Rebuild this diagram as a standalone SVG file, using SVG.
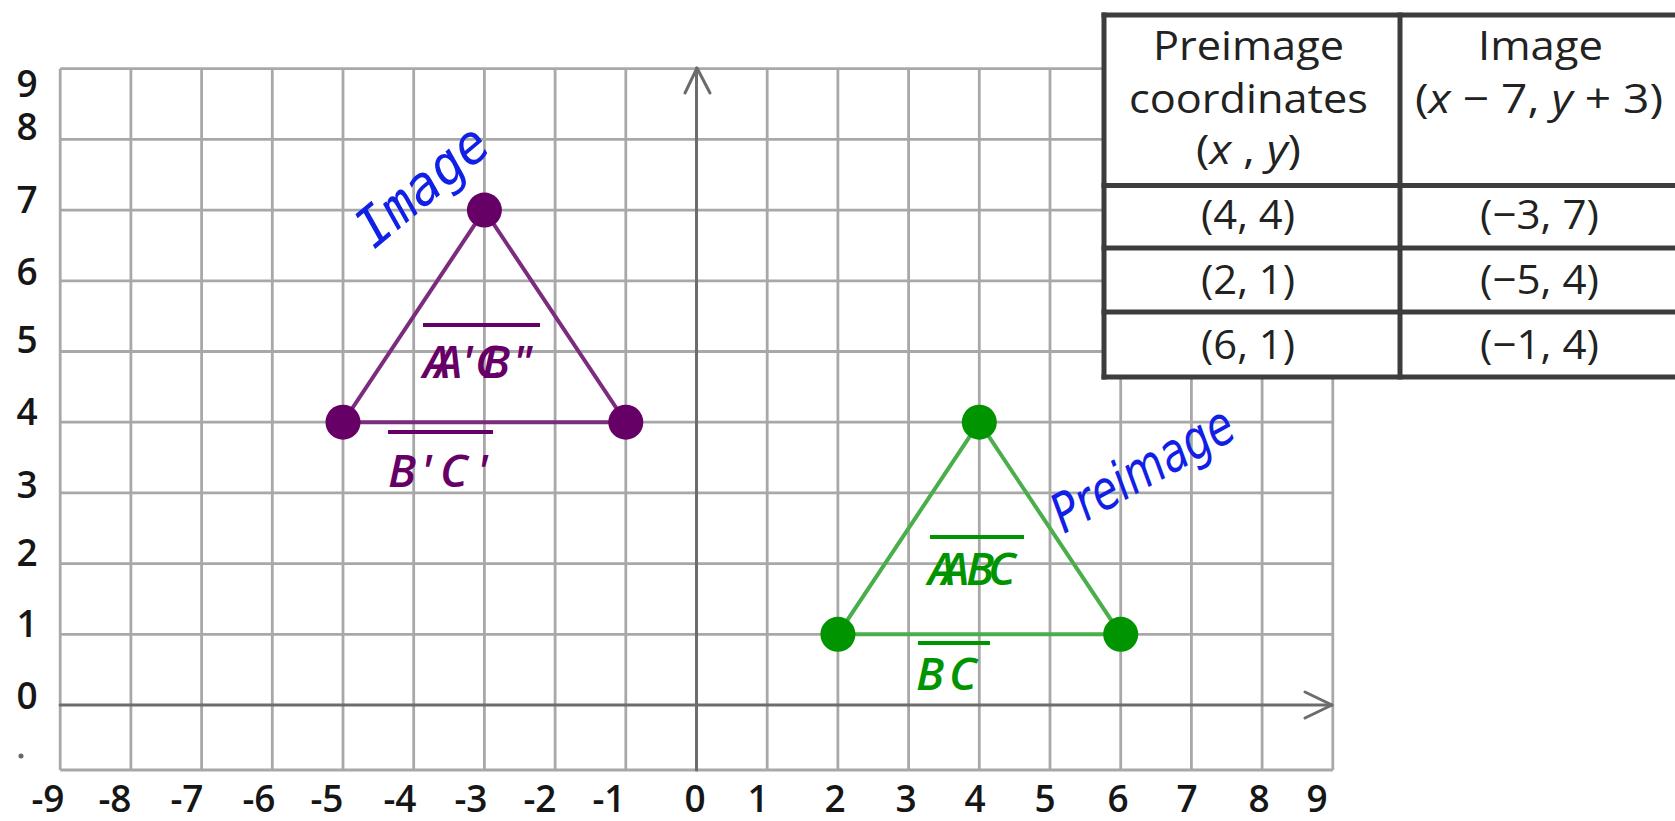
<svg xmlns="http://www.w3.org/2000/svg" width="1675" height="821" viewBox="0 0 1675 821">
<style>
.g line{stroke:#a8a8a8;stroke-width:2.8}
.ax{stroke:#6c6c6c;stroke-width:3;fill:none;stroke-linecap:round;stroke-linejoin:round}
.tk{font-family:"Open Sans","Noto Sans","Liberation Sans",sans-serif;font-weight:600;font-size:37px;fill:#161616;text-anchor:middle}
.tb{font-family:"Open Sans","Noto Sans","Liberation Sans",sans-serif;font-size:41px;fill:#222}
.tbl line{stroke:#3d3d3d;stroke-width:5;stroke-linecap:square}
.lb{font-family:"Open Sans","Noto Sans","Liberation Sans",sans-serif;font-style:italic;font-weight:600;font-size:46px}
.hd{font-style:oblique;fill:#1020e6}
.pl{stroke:#7c2c7c;stroke-width:4;fill:none}
.gl{stroke:#4aae4a;stroke-width:4;fill:none}
.ol{stroke-width:4}
</style>
<rect width="1675" height="821" fill="#fff"/>
<g id="grid" class="g">
<line x1="60.2" y1="68.7" x2="60.2" y2="770"/>
<line x1="130.9" y1="68.7" x2="130.9" y2="770"/>
<line x1="201.6" y1="68.7" x2="201.6" y2="770"/>
<line x1="272.3" y1="68.7" x2="272.3" y2="770"/>
<line x1="343" y1="68.7" x2="343" y2="770"/>
<line x1="413.7" y1="68.7" x2="413.7" y2="770"/>
<line x1="484.4" y1="68.7" x2="484.4" y2="770"/>
<line x1="555.1" y1="68.7" x2="555.1" y2="770"/>
<line x1="625.8" y1="68.7" x2="625.8" y2="770"/>
<line x1="767.2" y1="68.7" x2="767.2" y2="770"/>
<line x1="837.9" y1="68.7" x2="837.9" y2="770"/>
<line x1="908.6" y1="68.7" x2="908.6" y2="770"/>
<line x1="979.3" y1="68.7" x2="979.3" y2="770"/>
<line x1="1050" y1="68.7" x2="1050" y2="770"/>
<line x1="1120.7" y1="68.7" x2="1120.7" y2="770"/>
<line x1="1191.4" y1="68.7" x2="1191.4" y2="770"/>
<line x1="1262.1" y1="68.7" x2="1262.1" y2="770"/>
<line x1="1332.8" y1="68.7" x2="1332.8" y2="770"/>
<line x1="60.2" y1="68.7" x2="1332.8" y2="68.7"/>
<line x1="60.2" y1="139.4" x2="1332.8" y2="139.4"/>
<line x1="60.2" y1="210.1" x2="1332.8" y2="210.1"/>
<line x1="60.2" y1="280.8" x2="1332.8" y2="280.8"/>
<line x1="60.2" y1="351.5" x2="1332.8" y2="351.5"/>
<line x1="60.2" y1="422.2" x2="1332.8" y2="422.2"/>
<line x1="60.2" y1="492.9" x2="1332.8" y2="492.9"/>
<line x1="60.2" y1="563.6" x2="1332.8" y2="563.6"/>
<line x1="60.2" y1="634.3" x2="1332.8" y2="634.3"/>
<line x1="60.2" y1="770" x2="1332.8" y2="770"/>
</g>
<g id="axes">
<line class="ax" x1="60.2" y1="705" x2="1332" y2="705"/>
<polyline class="ax" points="1305,692 1332,705 1305,718"/>
<line class="ax" x1="696.5" y1="770" x2="696.5" y2="68"/>
<polyline class="ax" points="685,93 697,68 710,93"/>
</g>
<g id="y-ticks" class="tk">
<text x="27" y="97">9</text>
<text x="27" y="140">8</text>
<text x="27" y="213">7</text>
<text x="27" y="285">6</text>
<text x="27" y="353">5</text>
<text x="27" y="425">4</text>
<text x="27" y="498">3</text>
<text x="27" y="566">2</text>
<text x="27" y="637">1</text>
<text x="27" y="709">0</text>
</g>
<circle cx="21" cy="756" r="2.5" fill="#666"/>
<g id="x-ticks" class="tk">
<text x="48" y="812">-9</text>
<text x="115" y="812">-8</text>
<text x="187" y="812">-7</text>
<text x="259" y="812">-6</text>
<text x="327" y="812">-5</text>
<text x="400" y="812">-4</text>
<text x="471" y="812">-3</text>
<text x="540" y="812">-2</text>
<text x="609" y="812">-1</text>
<text x="695" y="812">0</text>
<text x="758" y="812">1</text>
<text x="835" y="812">2</text>
<text x="906" y="812">3</text>
<text x="975" y="812">4</text>
<text x="1045" y="812">5</text>
<text x="1118" y="812">6</text>
<text x="1187" y="812">7</text>
<text x="1259" y="812">8</text>
<text x="1317" y="812">9</text>
</g>
<g id="image-triangle">
<polygon class="pl" points="484.4,210.1 343,422.2 625.8,422.2"/>
<circle cx="484.4" cy="210.1" r="17.5" fill="#660066"/>
<circle cx="343" cy="422.2" r="17.5" fill="#660066"/>
<circle cx="625.8" cy="422.2" r="17.5" fill="#660066"/>
<line class="ol" stroke="#660066" x1="423" y1="325" x2="540" y2="325"/>
<text class="lb" fill="#660066" x="423 435 462 475 482 513" y="378">AA'CB"</text>
<line class="ol" stroke="#660066" x1="388" y1="432" x2="493" y2="432"/>
<text class="lb" fill="#660066" x="388 421 440 477" y="487">B'C'</text>
</g>
<g id="preimage-triangle">
<polygon class="gl" points="979.3,422.2 837.9,634.3 1120.7,634.3"/>
<circle cx="979.3" cy="422.2" r="17.5" fill="#009400"/>
<circle cx="837.9" cy="634.3" r="17.5" fill="#009400"/>
<circle cx="1120.7" cy="634.3" r="17.5" fill="#009400"/>
<line class="ol" stroke="#009400" x1="930" y1="537" x2="1024" y2="537"/>
<text class="lb" fill="#009400" x="928 942 966 988" y="585">AABC</text>
<line class="ol" stroke="#009400" x1="918" y1="643" x2="990" y2="643"/>
<text class="lb" fill="#009400" x="916 949" y="690">BC</text>
</g>
<g id="handwriting">
<text class="hd" style="font-family:'DejaVu Sans Mono',monospace;font-size:54px" x="374" y="250" textLength="156" lengthAdjust="spacingAndGlyphs" transform="rotate(-40 374 250)">Image</text>
<text class="hd" style="font-family:'DejaVu Sans',sans-serif;font-size:54px" x="1064" y="534" textLength="200" lengthAdjust="spacingAndGlyphs" transform="rotate(-29 1064 534)">Preimage</text>
</g>
<g id="table">
<rect x="1104" y="15" width="600" height="362" fill="#fff"/>
<g class="tbl">
<line x1="1104" y1="15" x2="1680" y2="15"/>
<line x1="1104" y1="15" x2="1104" y2="377"/>
<line x1="1400" y1="15" x2="1400" y2="377"/>
<line x1="1104" y1="185.5" x2="1680" y2="185.5"/>
<line x1="1104" y1="248" x2="1680" y2="248"/>
<line x1="1104" y1="312" x2="1680" y2="312"/>
<line x1="1104" y1="377" x2="1680" y2="377"/>
</g>
<g class="tb">
<text x="1153" y="60" textLength="191" lengthAdjust="spacingAndGlyphs">Preimage</text>
<text x="1129" y="113" textLength="239" lengthAdjust="spacingAndGlyphs">coordinates</text>
<text x="1196" y="164" textLength="105" lengthAdjust="spacingAndGlyphs">(<tspan font-style="italic">x</tspan> , <tspan font-style="italic">y</tspan>)</text>
<text x="1478" y="60" textLength="125" lengthAdjust="spacingAndGlyphs">Image</text>
<text x="1415" y="113" textLength="248" lengthAdjust="spacingAndGlyphs">(<tspan font-style="italic">x</tspan> − 7, <tspan font-style="italic">y</tspan> + 3)</text>
<text x="1201" y="229" textLength="94" lengthAdjust="spacingAndGlyphs">(4, 4)</text>
<text x="1480" y="229" textLength="119" lengthAdjust="spacingAndGlyphs">(−3, 7)</text>
<text x="1201" y="294" textLength="94" lengthAdjust="spacingAndGlyphs">(2, 1)</text>
<text x="1480" y="294" textLength="119" lengthAdjust="spacingAndGlyphs">(−5, 4)</text>
<text x="1201" y="359" textLength="94" lengthAdjust="spacingAndGlyphs">(6, 1)</text>
<text x="1480" y="359" textLength="119" lengthAdjust="spacingAndGlyphs">(−1, 4)</text>
</g>
</g>
</svg>
